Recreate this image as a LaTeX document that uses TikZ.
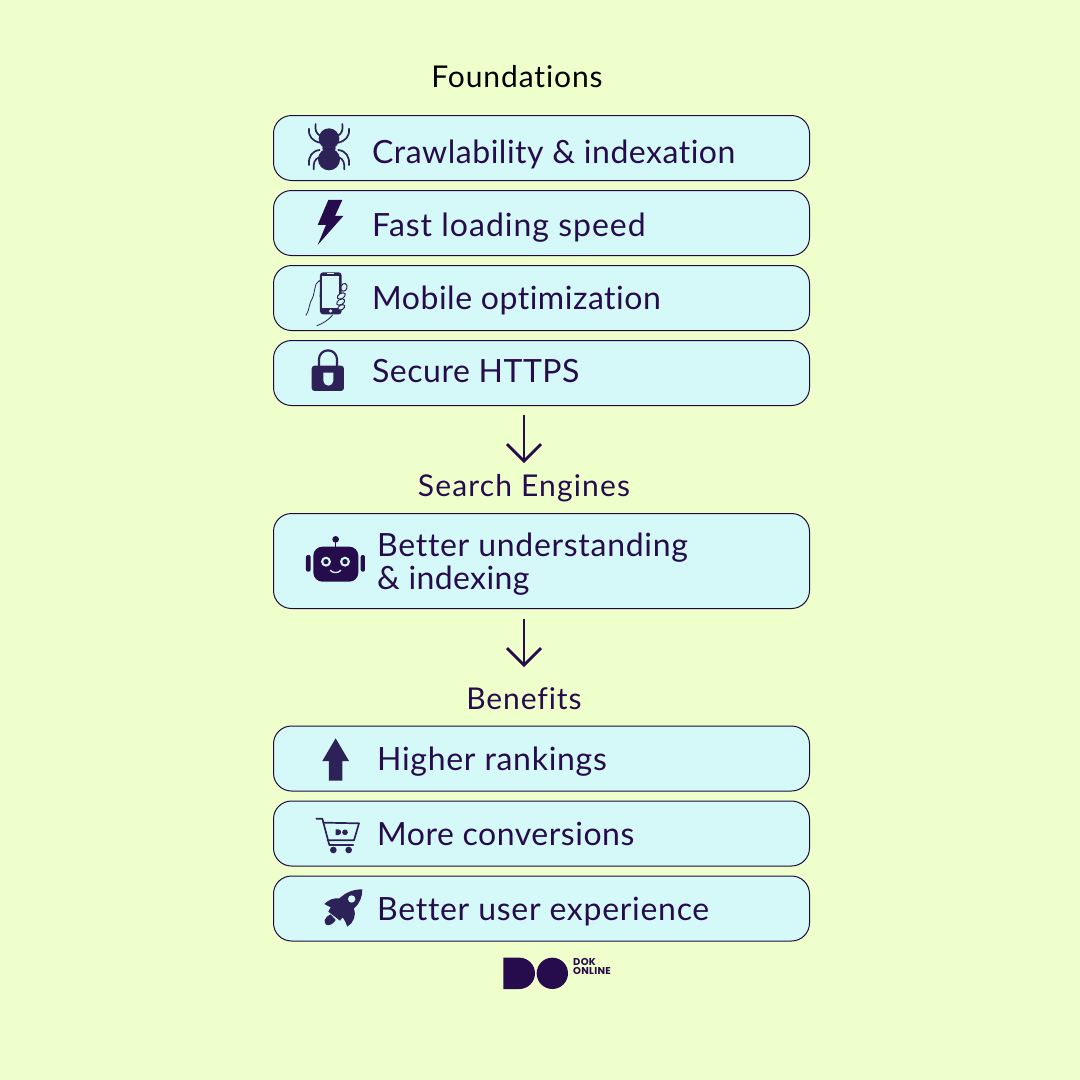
\documentclass[tikz,border=0pt]{standalone}
\usepackage{fontspec}
\setmainfont{Lato}
\newfontfamily\rowfont[LetterSpace=1.6,RawFeature=-liga]{Lato}
\newfontfamily\rowfontwide[LetterSpace=2.2,RawFeature=-liga]{Lato}
\newfontfamily\rowfontfast[LetterSpace=3.1,RawFeature=-liga]{Lato}
\newfontfamily\rowfontnarrow[LetterSpace=1.2,RawFeature=-liga]{Lato}
\newfontfamily\headfont[LetterSpace=3,RawFeature=-liga]{Lato}
\newfontfamily\headfontwide[LetterSpace=3.9,RawFeature=-liga]{Lato}
\newfontfamily\logofont[LetterSpace=3]{Poppins}
\usetikzlibrary{arrows.meta}
\definecolor{bgc}{HTML}{EEFFCC}
\definecolor{boxc}{HTML}{D5F9F8}
\definecolor{ink}{HTML}{260C4D}
\definecolor{iconc}{HTML}{2D2257}
\tikzset{
  x=1pt,y=-1pt,
  rowbox/.style={draw=ink!80!black,line width=1pt,fill=boxc,rounded corners=18pt,minimum width=536pt,inner sep=0pt,outer sep=0pt,anchor=north west},
  rowtext/.style={anchor=base west,inner sep=0pt,text=ink,font=\rowfont\fontsize{32}{33}\selectfont,align=left},
  rowtextwide/.style={rowtext,font=\rowfontwide\fontsize{32}{33}\selectfont},
  rowtextfast/.style={rowtext,font=\rowfontfast\fontsize{32}{33}\selectfont},
  rowtextnarrow/.style={rowtext,font=\rowfontnarrow\fontsize{32}{33}\selectfont},
  headtext/.style={anchor=base,inner sep=0pt,text=ink,font=\headfont\fontsize{30}{31}\selectfont},
  flow/.style={draw=ink,line width=2.8pt,-{Straight Barb[length=17pt,width=34pt,line width=2.8pt]}},
  icon/.style={fill=iconc,draw=none},
  iconline/.style={draw=iconc,fill=none,line cap=round},
  logotext/.style={anchor=base west,inner sep=0pt,text=ink,font=\logofont\bfseries\fontsize{10}{10}\selectfont},
  zoomA/.style={shift={(#1)},x=0.3333pt,y=-0.3333pt},
}
\begin{document}
\begin{tikzpicture}
\useasboundingbox (0,0) rectangle (1080,1080);
\fill[bgc] (0,0) rectangle (1080,1080);
% title
\node[headtext,text=black] (t1) at (517,87) {Foundations};
% boxes
\node[rowbox,minimum height=65pt] (b1) at (273.5,115.5) {};
\node[rowbox,minimum height=65pt] (b2) at (273.5,190.5) {};
\node[rowbox,minimum height=65pt] (b3) at (273.5,265.5) {};
\node[rowbox,minimum height=65pt] (b4) at (273.5,340.5) {};
\node[rowbox,minimum height=95pt] (b5) at (273.5,513.5) {};
\node[rowbox,minimum height=65pt] (b6) at (273.5,726) {};
\node[rowbox,minimum height=65pt] (b7) at (273.5,801) {};
\node[rowbox,minimum height=65pt] (b8) at (273.5,876) {};
% row texts
\node[rowtext] (x1) at (372,163) {Crawlability \& indexation};
\node[rowtextfast] (x2) at (372,236) {Fast loading speed};
\node[rowtext] (x3) at (372,309) {Mobile optimization};
\node[rowtext] (x4) at (372,382) {Secure HTTPS};
\node[rowtextwide] (x5a) at (377,556) {Better understanding};
\node[rowtextnarrow] (x5b) at (377,589) {\& indexing};
\node[rowtextwide] (x6) at (377,770) {Higher rankings};
\node[rowtext] (x7) at (377,845) {More conversions};
\node[rowtextwide] (x8) at (377,920) {Better user experience};
% headings
\node[headtext,font=\headfontwide\fontsize{30}{31}\selectfont] (t2) at (524,496) {Search Engines};
\node[headtext] (t3) at (524,709) {Benefits};
% connectors
\coordinate (a1s) at (524,415);
\coordinate (a1e) at (524,463);
\coordinate (a2s) at (524,619);
\coordinate (a2e) at (524,667);
\draw[flow] (a1s) -- (a1e);
\draw[flow] (a2s) -- (a2e);
% spider
\begin{scope}[zoomA={270,110}]
\fill[icon] (177,86) circle (31);
\fill[icon] (177,148) ellipse (33 and 33);
\fill[icon] (177,115) ellipse (20 and 12);
\foreach \s in {1,-1}{
 \begin{scope}[xshift=177*0.3333pt,xscale=\s]
 \draw[iconline,line width=1.7pt] (-25,78) .. controls (-38,72) and (-43,60) .. (-40,42);
 \draw[iconline,line width=1.7pt] (-28,98) .. controls (-50,92) and (-62,80) .. (-60,56);
 \draw[iconline,line width=1.7pt] (-28,120) .. controls (-50,122) and (-63,140) .. (-60,165);
 \draw[iconline,line width=1.7pt] (-30,142) .. controls (-42,146) and (-48,160) .. (-46,178);
 \end{scope}
}
\end{scope}
% bolt
\begin{scope}[zoomA={270,110}]
\fill[ink] (175,270) -- (217,270) -- (195,318) -- (220,318) -- (143,405) -- (168,345) -- (143,345) -- cycle;
\end{scope}
% phone
\begin{scope}[zoomA={270,260}]
\fill[iconc,rounded corners=3pt] (150,37) rectangle (215,163);
\fill[boxc] (157,47) rectangle (208,145);
\fill[boxc] (182,153) circle (5);
\fill[boxc] (172,40) rectangle (192,43);
\draw[iconline,line width=0.8pt] (148,62) .. controls (130,70) and (138,100) .. (122,125) .. controls (116,140) and (118,150) .. (108,166);
\draw[iconline,line width=0.8pt] (148,62) .. controls (160,66) and (150,90) .. (150,110);
\draw[iconline,line width=0.8pt] (141,197) .. controls (160,190) and (175,180) .. (188,165);
\draw[iconline,line width=1pt,fill=boxc,rotate around={-15:(222,82)}] (222,82) ellipse (9 and 12);
\draw[iconline,line width=1pt,fill=boxc,rotate around={30:(214,108)}] (214,108) ellipse (13 and 8);
\draw[iconline,line width=1pt,fill=boxc,rotate around={30:(212,126)}] (212,126) ellipse (13 and 8);
\draw[iconline,line width=1pt,fill=boxc,rotate around={30:(214,142)}] (214,142) ellipse (11 and 7);
\end{scope}
% lock
\begin{scope}[zoomA={270,260}]
\draw[iconline,line width=2.2pt,line cap=butt] (147,325) -- (147,298) arc[start angle=180,end angle=360,radius=27] -- (201,325);
\fill[iconc,rounded corners=3pt] (125,317) rectangle (222,393);
\fill[boxc] (160,338) -- (190,338) -- (190,362) arc[start angle=0,end angle=180,radius=15] -- cycle;
\end{scope}
% robot
\begin{scope}[zoomA={270,510}]
\fill[ink,rounded corners=9pt] (130,110) rectangle (265,215);
\fill[ink,rounded corners=2pt] (108,135) rectangle (122,185);
\fill[ink,rounded corners=2pt] (272,135) rectangle (285,185);
\fill[ink] (197,88) circle (10);
\draw[draw=ink,line width=1.5pt] (197,88) -- (197,112);
\foreach \ex in {168,225}{
 \fill[boxc] (\ex,155) circle (15);
 \fill[ink] (\ex,155) circle (8);
}
\draw[draw=boxc,line width=1.3pt,line cap=round] (181,181) .. controls (188,190) and (205,190) .. (212,181);
\end{scope}
% up arrow
\begin{scope}[zoomA={290,730}]
\fill[icon] (137,25) -- (177,93) -- (157,93) -- (157,152) -- (117,152) -- (117,93) -- (97,93) -- cycle;
\end{scope}
% cart
\begin{scope}[zoomA={290,730}]
\draw[iconline,line width=1.7pt,line join=round] (79,266) -- (97,266) -- (118,345) -- (190,345);
\draw[iconline,line width=1.7pt,line join=round] (100,278) -- (207,280) -- (192,331) -- (113,331);
\fill[icon] (130,360) circle (10);
\fill[icon] (176,360) circle (10);
\fill[icon] (137,298) -- (145,298) arc[start angle=-90,end angle=90,radius=8.5] -- (137,315) -- cycle;
\fill[icon] (165,307) circle (8.5);
\end{scope}
% rocket
\begin{scope}[zoomA={290,730}]
\fill[icon] (217,478) .. controls (185,478) and (165,490) .. (148,505) .. controls (130,503) and (115,510) .. (103,522) -- (122,532) -- (115,545) -- (150,572) -- (158,562) .. controls (165,570) and (168,580) .. (172,590) .. controls (190,580) and (200,555) .. (192,535) .. controls (210,520) and (217,500) .. (217,478) -- cycle;
\fill[boxc] (185,507) circle (11);
\fill[icon] (104,570) .. controls (106,562) and (115,556) .. (122,553) -- (137,570) .. controls (130,582) and (118,588) .. (110,585) .. controls (105,582) and (103,576) .. (104,570) -- cycle;
\end{scope}
% logo
\begin{scope}[zoomA={490,945}]
\fill[ink] (40,38) -- (88,38) arc[start angle=-90,end angle=90,radius=47] -- (40,132) -- cycle;
\fill[ink] (187,85) circle (47);
\end{scope}
\node[logotext] (l1) at (573,965) {DOK};
\node[logotext] (l2) at (573,974) {ONLINE};
\end{tikzpicture}
\end{document}
